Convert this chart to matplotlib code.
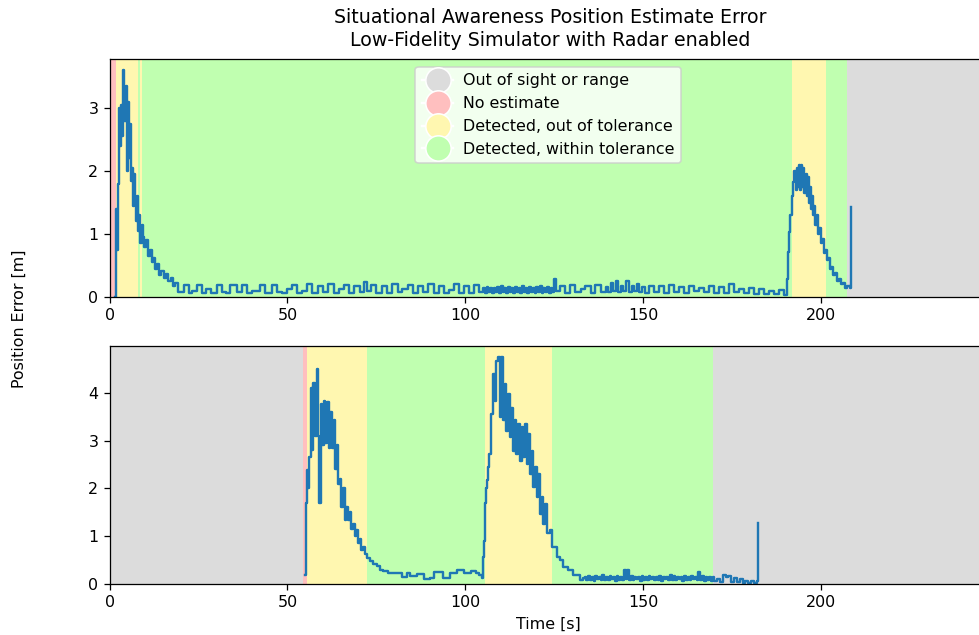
import matplotlib
matplotlib.use("Agg")
import matplotlib.pyplot as plt
from matplotlib.lines import Line2D

# status colours
C_OUT = "#dcdcdc"
C_NONE = "#ffbfbf"
C_BAD = "#fff7b0"
C_GOOD = "#c0ffb0"

STATUS_LABELS = ["Out of sight or range", "No estimate",
                 "Detected, out of tolerance", "Detected, within tolerance"]
STATUS_COLORS = [C_OUT, C_NONE, C_BAD, C_GOOD]

# status intervals: (start, end, colour)
spans_top = [(0.0, 1.8, C_NONE), (1.8, 8.1, C_BAD), (8.1, 8.5, C_GOOD),
             (8.5, 9.1, C_BAD), (9.1, 191.8, C_GOOD), (191.8, 201.4, C_BAD),
             (201.4, 207.5, C_GOOD), (207.5, 260.0, C_OUT)]
spans_bottom = [(0.0, 54.5, C_OUT), (54.5, 55.4, C_NONE), (55.4, 72.5, C_BAD),
                (72.5, 105.6, C_GOOD), (105.6, 124.3, C_BAD),
                (124.3, 169.8, C_GOOD), (169.8, 260.0, C_OUT)]

# vehicle 1 position error
t_top = [1.5, 1.8, 2.1, 2.4, 2.7, 3.0, 3.3, 3.6, 3.9, 4.2, 4.5, 4.8, 5.1, 5.4, 5.7,
         6.0, 6.3, 6.6, 6.9, 7.2, 7.5, 7.8, 8.1, 8.4, 8.7, 9.0, 9.3, 9.8, 10.3,
         10.8, 11.3, 11.8, 12.3, 12.8, 13.3, 13.8, 14.5, 15.2, 15.8, 16.5, 17.2,
         17.8, 18.5, 19.2,
         20.8, 22.2, 23.3, 24.5, 25.9, 27.0, 28.4, 30.2, 31.6, 32.8, 34.0, 35.8,
         37.2, 38.6, 40.0, 42.4, 43.8, 45.7, 47.1, 48.5, 49.9, 51.3, 52.7, 54.0,
         55.6, 57.0, 58.6, 60.0, 61.5, 63.0, 64.4, 66.0, 67.2, 68.8, 70.3, 71.6,
         72.4, 73.6, 75.0, 76.6, 78.0, 79.5, 81.0, 82.3, 83.9, 85.2, 86.8, 88.2,
         89.6, 91.2, 92.6, 94.0, 95.5, 96.8, 98.4, 99.8, 101.2, 102.6, 104.0,
         105.0, 105.5, 106.0, 106.5, 107.0, 107.5, 108.0, 108.5, 109.0, 109.5,
         110.0, 110.5, 111.0, 111.5, 112.0, 112.5, 113.0, 113.5, 114.0, 114.5,
         115.0, 115.5, 116.0, 116.5, 117.0, 117.5, 118.0, 118.5, 119.0, 119.5,
         120.0, 120.5, 121.0, 121.5, 122.0, 122.5, 123.0, 123.5, 124.0, 124.5,
         125.0, 125.6, 126.8, 128.2, 129.6, 131.0, 132.5, 133.8, 135.3, 136.6,
         138.1, 139.5, 140.2, 141.0, 141.6, 142.4, 143.0, 143.8, 144.5, 145.3,
         146.0, 146.8, 147.5, 148.3, 149.0, 149.8, 150.6, 151.8, 153.2, 154.6,
         156.0, 157.4, 158.8, 160.2, 161.6, 163.0, 164.4, 165.8, 167.2, 168.6,
         170.0, 171.4, 172.8, 174.2, 175.6, 177.0, 178.4, 179.8, 181.2, 182.6,
         184.0, 185.4, 186.8, 188.2, 189.6,
         190.4, 190.5, 190.6, 190.7, 190.8, 190.9, 191.0, 191.1, 191.2, 191.3,
         191.8, 192.0, 192.2, 192.6, 193.0, 193.3, 193.6, 193.9,
         194.2, 194.5, 194.8, 195.1, 195.4, 195.7, 196.0, 196.3, 196.6, 196.9,
         197.2, 197.5, 197.8, 198.1, 198.4, 198.8, 199.2, 199.6, 200.0, 200.4,
         200.8, 201.2, 201.6, 202.0, 202.5, 203.0, 203.5, 204.0, 204.5, 205.0,
         205.6, 206.2, 206.8, 207.4, 208.2, 208.6]
err_top = [0.00, 1.40, 0.75, 1.80, 3.00, 2.40, 3.05, 2.55, 3.60, 2.80, 3.35, 2.00,
           3.10, 2.20, 2.75, 1.85, 2.05, 1.45, 1.95, 1.50, 1.20, 1.60, 1.05, 1.30,
           0.85, 1.15, 0.95, 0.80, 0.90, 0.65, 0.75, 0.55, 0.62, 0.45, 0.52, 0.35,
           0.42, 0.30, 0.36, 0.25, 0.30, 0.18, 0.22, 0.08,
           0.19, 0.07, 0.09, 0.19, 0.07, 0.12, 0.06, 0.19, 0.08, 0.06, 0.19, 0.08,
           0.19, 0.07, 0.09, 0.19, 0.07, 0.19, 0.08, 0.06, 0.12, 0.19, 0.07, 0.10,
           0.20, 0.06, 0.18, 0.08, 0.21, 0.07, 0.12, 0.19, 0.06, 0.17, 0.08, 0.24,
           0.09, 0.19, 0.07, 0.18, 0.06, 0.20, 0.08, 0.12, 0.19, 0.06, 0.18, 0.08,
           0.20, 0.07, 0.18, 0.06, 0.11, 0.20, 0.07, 0.18, 0.06, 0.19, 0.08,
           0.15, 0.07, 0.16, 0.08, 0.15, 0.06, 0.14, 0.08, 0.16, 0.07,
           0.17, 0.08, 0.15, 0.07, 0.16, 0.08, 0.14, 0.07, 0.16, 0.08,
           0.15, 0.06, 0.17, 0.08, 0.15, 0.07, 0.16, 0.08, 0.15, 0.07,
           0.16, 0.08, 0.17, 0.06, 0.15, 0.08, 0.16, 0.07, 0.15, 0.08,
           0.28, 0.09, 0.17, 0.07, 0.19, 0.08, 0.12, 0.18, 0.06, 0.19,
           0.08, 0.16, 0.08, 0.22, 0.09, 0.25, 0.08, 0.18, 0.10, 0.26,
           0.08, 0.17, 0.09, 0.21, 0.08, 0.16, 0.07, 0.18, 0.08, 0.17,
           0.07, 0.19, 0.08, 0.16, 0.07, 0.18, 0.09, 0.15, 0.08, 0.17,
           0.07, 0.16, 0.06, 0.20, 0.08, 0.12, 0.06, 0.15, 0.05, 0.12,
           0.04, 0.10, 0.05, 0.11, 0.03,
           0.05, 0.15, 0.28, 0.42, 0.56, 0.72, 0.88, 1.04, 1.18, 1.30,
           1.35, 1.60, 1.83, 2.00, 1.70, 2.05, 1.75, 2.10,
           1.70, 2.10, 1.75, 2.05, 1.65, 1.95, 1.60, 1.90, 1.50, 1.75,
           1.40, 1.60, 1.30, 1.45, 1.15, 1.30, 1.00, 1.10, 0.85, 0.92,
           0.70, 0.75, 0.58, 0.62, 0.45, 0.48, 0.35, 0.38, 0.26, 0.28,
           0.20, 0.22, 0.14, 0.18, 0.15, 1.43]

# vehicle 2 position error
t_bottom = [55.0, 55.2, 55.35, 55.5, 55.9, 56.2, 56.6, 56.9, 57.3, 57.7, 58.2,
            58.6, 59.0, 59.4,
            59.8, 60.3, 60.7, 61.2, 61.6, 62.1, 62.5, 63.0, 63.4, 63.9, 64.3,
            64.8, 65.2, 65.7, 66.1, 66.6, 67.0, 67.5, 68.0, 68.4, 68.9, 69.4,
            69.8, 70.3, 70.8, 71.3, 71.8, 72.5, 73.3, 74.2, 75.1, 76.0, 77.0,
            78.4, 80.3, 82.2, 83.6, 84.5, 86.4, 88.3, 90.2, 91.1, 93.9, 95.8,
            97.7, 99.6, 101.5, 103.0, 104.0, 104.6, 105.1,
            105.3, 105.5, 105.7, 105.85,
            106.0, 106.4, 106.8, 107.4, 107.9, 108.4, 108.8, 109.3, 109.8, 110.2,
            110.7, 111.2, 111.6, 112.1, 112.6, 113.0, 113.5, 114.0, 114.4, 114.9,
            115.4, 115.9, 116.3, 116.8, 117.3, 117.7, 118.2, 118.7, 119.1, 119.6,
            120.1, 120.6, 121.0, 121.5, 121.9, 122.4, 122.9, 123.8, 124.3, 125.2,
            125.7, 126.6, 127.6, 129.0, 130.4, 132.3, 133.0,
            133.6, 134.1, 134.6, 135.1, 135.6, 136.1, 136.6, 137.1, 137.6, 138.1,
            138.6, 139.1, 139.6, 140.1, 140.6, 141.1, 141.6, 142.1, 142.6, 143.1,
            143.6, 144.1, 144.6, 145.1, 145.6, 146.1, 146.6, 147.1, 147.6, 148.1,
            148.6, 149.1, 149.6, 150.1, 150.6, 151.1, 151.6, 152.1, 152.6, 153.1,
            153.6, 154.1, 154.6, 155.1, 155.6, 156.1, 156.6, 157.1, 157.6, 158.1,
            158.6, 159.1, 159.6, 160.1, 160.6, 161.1, 161.6, 162.1, 162.6, 163.1,
            163.6, 164.1, 164.6, 165.1, 165.6, 166.1, 166.6, 167.1, 167.6, 168.1,
            168.6, 169.1, 169.6, 170.1, 170.8, 171.6, 172.4, 173.2, 174.0, 174.8,
            175.6, 176.4, 177.2, 178.0, 178.8, 179.6, 180.4, 181.2, 182.0, 182.4]
err_bottom = [0.19, 1.00, 1.70, 2.38, 2.00, 2.65, 4.10, 2.80, 4.20, 3.10, 4.50,
              3.10, 1.69, 3.76,
              2.90, 3.83, 2.95, 3.80, 2.85, 3.60, 2.85, 3.42, 2.40, 2.90, 2.10,
              2.20, 1.60, 2.00, 1.33, 1.60, 1.33, 1.50, 1.15, 1.25, 1.00, 1.12,
              0.85, 0.95, 0.72, 0.78, 0.62, 0.55, 0.48, 0.42, 0.37, 0.30, 0.27,
              0.24, 0.22, 0.14, 0.22, 0.16, 0.20, 0.10, 0.12, 0.25, 0.12, 0.22,
              0.30, 0.24, 0.27, 0.22, 0.18, 0.13, 0.57,
              0.90, 1.30, 1.70, 2.00,
              2.17, 2.45, 2.72, 3.56, 4.39, 3.83, 4.67, 4.74, 3.49, 4.74,
              3.42, 4.18, 3.21, 3.97, 3.07, 3.69, 2.79, 3.42, 2.72, 3.35,
              2.58, 3.28, 2.65, 3.35, 2.51, 3.14, 2.31, 2.79, 2.03, 2.44,
              1.82, 2.31, 1.47, 1.82, 1.26, 1.68, 1.06, 1.13, 0.78, 0.78,
              0.57, 0.50, 0.36, 0.29, 0.19, 0.08, 0.12,
              0.14, 0.08, 0.16, 0.09, 0.15, 0.07, 0.17, 0.10, 0.14, 0.08,
              0.18, 0.09, 0.15, 0.08, 0.16, 0.10, 0.14, 0.07, 0.17, 0.09,
              0.15, 0.08, 0.30, 0.10, 0.29, 0.09, 0.16, 0.08, 0.15, 0.10,
              0.14, 0.07, 0.16, 0.09, 0.15, 0.08, 0.17, 0.10, 0.15, 0.08,
              0.14, 0.09, 0.16, 0.07, 0.15, 0.10, 0.14, 0.08, 0.18, 0.09,
              0.16, 0.08, 0.15, 0.10, 0.14, 0.07, 0.17, 0.09, 0.15, 0.08,
              0.16, 0.10, 0.14, 0.08, 0.25, 0.09, 0.16, 0.07, 0.15, 0.09,
              0.14, 0.07, 0.15, 0.06, 0.10, 0.04, 0.18, 0.14, 0.16, 0.05,
              0.12, 0.04, 0.10, 0.03, 0.06, 0.02, 0.07, 0.03, 0.06, 1.28]

DPI = 114
fig = plt.figure(figsize=(979 / DPI, 635 / DPI), dpi=DPI)

# axes run past the right edge of the canvas
ax_top = fig.add_axes([0.1119, 0.5323, 0.8958, 0.3748])
ax_bot = fig.add_axes([0.1119, 0.0803, 0.8958, 0.3748])

for ax, spans, t, err in [(ax_top, spans_top, t_top, err_top),
                          (ax_bot, spans_bottom, t_bottom, err_bottom)]:
    for start, end, col in spans:
        ax.axvspan(start, end, color=col, linewidth=0, zorder=0)
    ax.plot(t, err, color="#1f77b4", linewidth=1.5, drawstyle="steps-post", zorder=2)
    ax.set_xlim(0, 246.6)
    ax.set_ylim(0, max(err) * 1.05)

ax_bot.set_xlabel("Time [s]")

handles = [Line2D([0], [0], marker="o", color="w", markerfacecolor=c,
                  markersize=16, label=l)
           for l, c in zip(STATUS_LABELS, STATUS_COLORS)]
ax_top.legend(handles=handles, loc="upper center", bbox_to_anchor=(0.5, 0.98),
              handletextpad=0.6, borderaxespad=0.2)

fig.suptitle("Situational Awareness Position Estimate Error\n"
             "Low-Fidelity Simulator with Radar enabled",
             x=550 / 979, y=1 - 8 / 635, fontsize=12, linespacing=1.3)
fig.text(12 / 979, 0.4987, "Position Error [m]", rotation=90,
         ha="left", va="center", fontsize=10)

fig.savefig("out.png", dpi=DPI)
